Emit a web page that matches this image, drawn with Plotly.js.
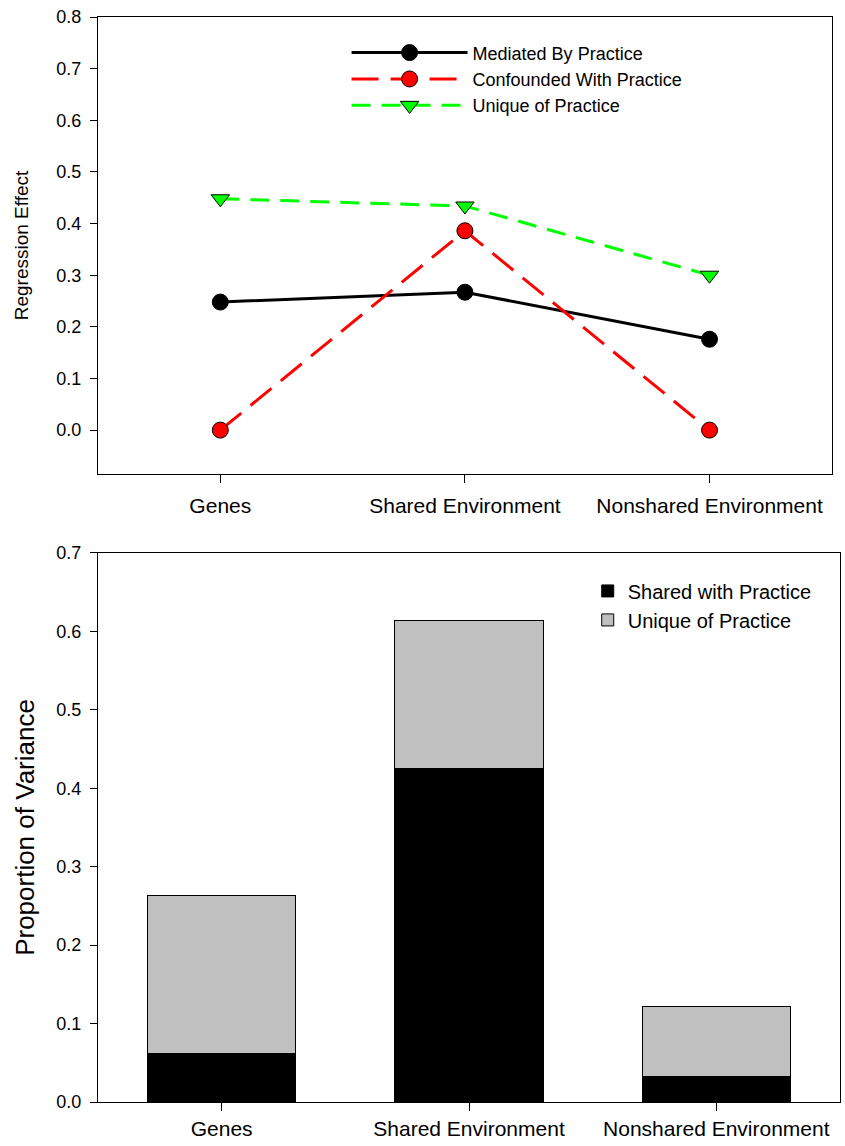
<!DOCTYPE html>
<html>
<head>
<meta charset="utf-8">
<script src="https://cdn.plot.ly/plotly-3.0.1.min.js"></script>
<style>html,body{margin:0;padding:0;background:#fff;}#chart{width:845px;height:1146px;}</style>
</head>
<body>
<div id="chart"></div>
<script>
var categories = ['Genes', 'Shared Environment', 'Nonshared Environment'];
var mediatedByPractice = [0.248, 0.267, 0.176];
var confoundedWithPractice = [0.0, 0.386, 0.0];
var uniqueOfPracticeEffect = [0.448, 0.434, 0.300];
var sharedWithPracticeVar = [0.062, 0.425, 0.032];
var uniqueOfPracticeVar = [0.201, 0.189, 0.090];
var topYTicks = [0.0, 0.1, 0.2, 0.3, 0.4, 0.5, 0.6, 0.7, 0.8];
var bottomYTicks = [0.0, 0.1, 0.2, 0.3, 0.4, 0.5, 0.6, 0.7];

var FONT = 'Liberation Sans, Arial, sans-serif';

var traces = [
  {
    x: categories, y: mediatedByPractice, name: 'Mediated By Practice',
    type: 'scatter', mode: 'lines+markers', xaxis: 'x', yaxis: 'y', legend: 'legend',
    line: {color: '#000000', width: 3},
    marker: {symbol: 'circle', size: 16, color: '#000000', line: {color: '#000000', width: 1}}
  },
  {
    x: categories, y: confoundedWithPractice, name: 'Confounded With Practice',
    type: 'scatter', mode: 'lines+markers', xaxis: 'x', yaxis: 'y', legend: 'legend',
    line: {color: '#ff0000', width: 3, dash: '27px,12px'},
    marker: {symbol: 'circle', size: 16, color: '#ff0000', line: {color: '#000000', width: 1}}
  },
  {
    x: categories, y: uniqueOfPracticeEffect, name: 'Unique of Practice',
    type: 'scatter', mode: 'lines+markers', xaxis: 'x', yaxis: 'y', legend: 'legend',
    line: {color: '#00ff00', width: 3, dash: '19px,11px'},
    marker: {symbol: 'triangle-down', size: 16, color: '#00ff00', line: {color: '#000000', width: 1}}
  },
  {
    x: categories, y: sharedWithPracticeVar, name: 'Shared with Practice',
    type: 'bar', xaxis: 'x2', yaxis: 'y2', legend: 'legend2', width: 0.6,
    marker: {color: '#000000', line: {color: '#000000', width: 1}}
  },
  {
    x: categories, y: uniqueOfPracticeVar, name: 'Unique of Practice',
    type: 'bar', xaxis: 'x2', yaxis: 'y2', legend: 'legend2', width: 0.6,
    marker: {color: '#c0c0c0', line: {color: '#000000', width: 1}}
  }
];

var axisCommon = {
  showline: true, linecolor: '#000', linewidth: 1, mirror: true,
  showgrid: false, zeroline: false, ticks: 'outside', tickcolor: '#000',
  tickwidth: 1, fixedrange: true
};

var layout = {
  width: 845, height: 1146,
  margin: {l: 98, r: 5, t: 17, b: 44},
  paper_bgcolor: '#ffffff', plot_bgcolor: '#ffffff',
  font: {family: FONT, color: '#000'},
  barmode: 'stack',
  showlegend: true,
  xaxis: Object.assign({}, axisCommon, {
    domain: [0, 0.989], anchor: 'y', type: 'category', range: [-0.5, 2.5],
    ticklen: 8, ticklabelstandoff: 5, tickfont: {size: 21, family: FONT}
  }),
  yaxis: Object.assign({}, axisCommon, {
    domain: [0.5788, 1], anchor: 'x', range: [-0.085, 0.8],
    tickvals: topYTicks, ticktext: topYTicks.map(function(v){return v.toFixed(1);}),
    ticklen: 7, ticklabelstandoff: 5, tickfont: {size: 18, family: FONT},
    title: {text: 'Regression Effect', font: {size: 19, family: FONT}, standoff: 22}
  }),
  xaxis2: Object.assign({}, axisCommon, {
    domain: [0, 1], anchor: 'y2', type: 'category', range: [-0.5, 2.5],
    ticklen: 8, ticklabelstandoff: 0, tickfont: {size: 21, family: FONT}
  }),
  yaxis2: Object.assign({}, axisCommon, {
    domain: [0, 0.506], anchor: 'x2', range: [0, 0.7],
    tickvals: bottomYTicks, ticktext: bottomYTicks.map(function(v){return v.toFixed(1);}),
    ticklen: 7, ticklabelstandoff: 5, tickfont: {size: 18, family: FONT},
    title: {text: 'Proportion of Variance', font: {size: 26, family: FONT}, standoff: 14}
  }),
  legend: {
    x: 0.335, y: 0.984, xanchor: 'left', yanchor: 'top',
    bgcolor: 'rgba(0,0,0,0)', borderwidth: 0,
    font: {size: 18, family: FONT, color: '#000'},
    itemwidth: 116, tracegroupgap: 0
  },
  legend2: {
    x: 0.66, y: 0.489, xanchor: 'left', yanchor: 'top',
    bgcolor: 'rgba(0,0,0,0)', borderwidth: 0,
    font: {size: 20, family: FONT, color: '#000'},
    traceorder: 'normal', tracegroupgap: 0
  }
};

Plotly.newPlot('chart', traces, layout, {displayModeBar: false, staticPlot: true});
</script>
</body>
</html>
